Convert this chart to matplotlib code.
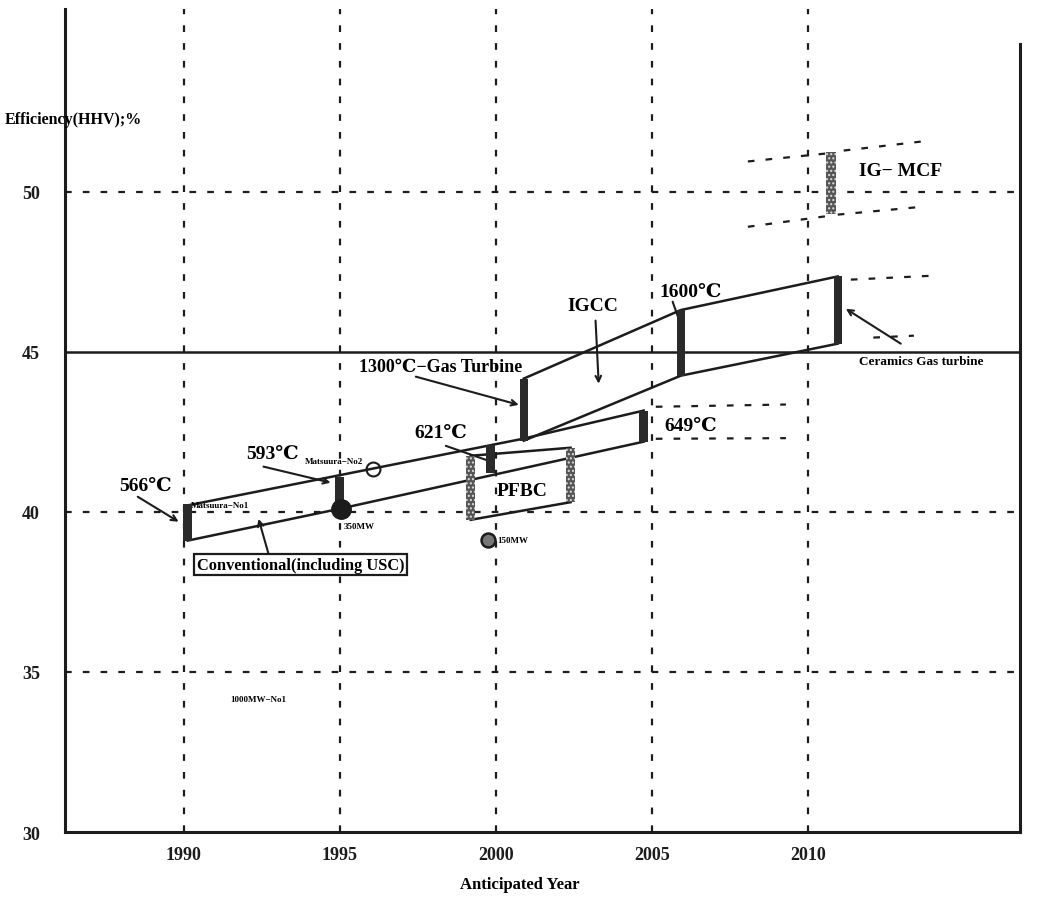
import matplotlib
matplotlib.use('Agg')
import matplotlib.pyplot as plt

plt.rcParams['font.family'] = ['Liberation Serif', 'DejaVu Serif']
plt.rcParams['font.weight'] = 'bold'

# axis ticks
years = [1990, 1995, 2000, 2005, 2010]
eff_ticks = [30, 35, 40, 45, 50]

# conventional plants (upper edge continues as the 649C band top)
conv_top_x = [1990.13, 2000.87, 2004.74]
conv_top_y = [40.2, 42.28, 43.16]
conv_bot_x = [1990.13, 1995.03, 2004.74]
conv_bot_y = [39.1, 40.1, 42.19]
conv_bar_x = [1990.13, 1995.0, 1999.84, 2004.74]
conv_bar_lo = [39.1, 40.2, 41.2, 42.19]
conv_bar_hi = [40.25, 41.1, 42.1, 43.16]
ext649_x = [2005.13, 2009.3]
ext649_top = [43.28, 43.35]
ext649_bot = [42.28, 42.3]

# PFBC box
pfbc_bar_x = [1999.2, 2002.4]
pfbc_bar_lo = [39.75, 40.3]
pfbc_bar_hi = [41.75, 42.0]

# IGCC band
igcc_x = [2000.9, 2005.93, 2010.96]
igcc_top = [44.16, 46.3, 47.35]
igcc_bot = [42.22, 44.25, 45.25]
ext_igcc_top_x = [2011.38, 2013.94]
ext_igcc_top_y = [47.25, 47.37]
ext_igcc_bot_x = [2012.1, 2013.4]
ext_igcc_bot_y = [45.44, 45.5]

# IG-MCF
mcf_bar_x = [2010.74]
mcf_bar_lo = [49.31]
mcf_bar_hi = [51.25]
mcf_dash = [
    ([2008.08, 2010.6], [50.94, 51.19]),
    ([2011.15, 2013.62], [51.28, 51.56]),
    ([2008.08, 2010.74], [48.9, 49.25]),
    ([2010.96, 2013.72], [49.28, 49.53]),
]

# plant markers
unit350 = (1995.03, 40.1)
unit150 = (1999.74, 39.13)
no2_mark = (1996.06, 41.34)

ink = '#1c1c1c'
fig = plt.figure(figsize=(10.37, 9.12), dpi=100)
ax = fig.add_axes([0.0627, 0.0866, 0.9209, 0.9024])
ax.set_xlim(1986.2, 2016.8)
ax.set_ylim(30, 55.7)

ax.spines['top'].set_visible(False)
for s in ['left', 'right', 'bottom']:
    ax.spines[s].set_linewidth(2.2)
    ax.spines[s].set_color(ink)
ax.spines['right'].set_bounds(30, 54.6)

ax.set_xticks(years)
ax.set_yticks(eff_ticks)
ax.tick_params(length=0, labelsize=13, colors=ink)
ax.tick_params(axis='y', pad=18)
ax.tick_params(axis='x', pad=10)

dash = (0, (3, 5))
for yr in years:
    ax.axvline(yr, color=ink, lw=1.6, ls=dash, zorder=1)
for e in [35, 40, 50]:
    ax.axhline(e, color=ink, lw=1.6, ls=dash, zorder=1)
ax.axhline(45, color=ink, lw=1.8, zorder=2)

lw = 1.8
ax.plot(conv_top_x, conv_top_y, color=ink, lw=lw, zorder=3)
ax.plot(conv_bot_x, conv_bot_y, color=ink, lw=lw, zorder=3)
ax.plot(ext649_x, ext649_top, color=ink, lw=1.6, ls=dash)
ax.plot(ext649_x, ext649_bot, color=ink, lw=1.6, ls=dash)

ax.plot(igcc_x, igcc_top, color=ink, lw=lw, zorder=3)
ax.plot(igcc_x, igcc_bot, color=ink, lw=lw, zorder=3)
ax.plot(ext_igcc_top_x, ext_igcc_top_y, color=ink, lw=1.6, ls=dash)
ax.plot(ext_igcc_bot_x, ext_igcc_bot_y, color=ink, lw=1.6, ls=dash)

ax.plot(pfbc_bar_x, pfbc_bar_hi, color=ink, lw=lw, zorder=3)
ax.plot(pfbc_bar_x, pfbc_bar_lo, color=ink, lw=lw, zorder=3)

for xs, ys in mcf_dash:
    ax.plot(xs, ys, color=ink, lw=1.6, ls=dash)

bw = 0.27
ax.bar(conv_bar_x, [h - l for h, l in zip(conv_bar_hi, conv_bar_lo)],
       bottom=conv_bar_lo, width=bw, color='#2a2a2a', zorder=4)
ax.bar(igcc_x, [h - l for h, l in zip(igcc_top, igcc_bot)],
       bottom=igcc_bot, width=bw, color='#2a2a2a', zorder=4)
ax.bar(pfbc_bar_x, [h - l for h, l in zip(pfbc_bar_hi, pfbc_bar_lo)],
       bottom=pfbc_bar_lo, width=0.3, color='#555555', hatch='....',
       edgecolor='#dddddd', lw=0, zorder=4)
ax.bar(mcf_bar_x, [h - l for h, l in zip(mcf_bar_hi, mcf_bar_lo)],
       bottom=mcf_bar_lo, width=0.3, color='#555555', hatch='....',
       edgecolor='#dddddd', lw=0, zorder=4)

ax.plot(*unit350, 'o', ms=14, color=ink, zorder=5)
ax.plot(*unit150, 'o', ms=10, mfc='#777777', mec=ink, mew=1.8, zorder=5)
ax.plot(*no2_mark, 'o', ms=10, mfc='none', mec=ink, mew=1.5, zorder=5)

big = 14
small = 6.5
ax.text(1988.78, 40.81, '566\u2103', fontsize=big, ha='center', va='center')
ax.text(1992.85, 41.81, '593\u2103', fontsize=big, ha='center', va='center')
ax.text(1998.24, 42.47, '621\u2103', fontsize=big, ha='center', va='center')
ax.text(2006.25, 42.69, '649\u2103', fontsize=big, ha='center', va='center')
ax.text(2006.25, 46.88, '1600\u2103', fontsize=big, ha='center', va='center')
ax.text(1998.24, 44.53, '1300\u2103\u2212Gas Turbine', fontsize=13, ha='center', va='center')
ax.text(2003.1, 46.44, 'IGCC', fontsize=big, ha='center', va='center')
ax.text(2000.83, 40.66, 'PFBC', fontsize=big, ha='center', va='center')
ax.text(2012.98, 50.66, 'IG\u2212 MCF', fontsize=big, ha='center', va='center')
ax.text(2013.62, 44.72, 'Ceramics Gas turbine', fontsize=9.5, ha='center', va='center')
ax.text(1990.22, 40.2, 'Matsuura\u2212No1', fontsize=small, ha='left', va='center')
ax.text(1993.9, 41.6, 'Matsuura\u2212No2', fontsize=small, ha='left', va='center')
ax.text(1995.13, 39.56, '350MW', fontsize=small, ha='left', va='center')
ax.text(2000.06, 39.13, '150MW', fontsize=small, ha='left', va='center')
ax.text(1992.4, 34.16, '1000MW\u2212No1', fontsize=small, ha='center', va='center')
ax.text(1993.75, 38.34, 'Conventional(including USC)', fontsize=11.8,
        ha='center', va='center',
        bbox=dict(boxstyle='square,pad=0.15', fc='white', ec=ink, lw=1.6))

arrow = dict(arrowstyle='->', color=ink, lw=1.5, shrinkA=0, shrinkB=0)
leader = dict(arrowstyle='-', color=ink, lw=1.5, shrinkA=0, shrinkB=0)
ax.annotate('', xy=(1989.84, 39.69), xytext=(1988.53, 40.47), arrowprops=arrow)
ax.annotate('', xy=(1994.71, 40.91), xytext=(1992.56, 41.41), arrowprops=arrow)
ax.annotate('', xy=(1999.78, 41.59), xytext=(1998.4, 42.06), arrowprops=leader)
ax.annotate('', xy=(2000.74, 43.34), xytext=(1997.44, 44.22), arrowprops=arrow)
ax.annotate('', xy=(2003.3, 44.0), xytext=(2003.2, 45.97), arrowprops=arrow)
ax.annotate('', xy=(2006.03, 45.56), xytext=(2005.67, 46.56), arrowprops=leader)
ax.annotate('', xy=(2011.22, 46.34), xytext=(2012.98, 45.25), arrowprops=arrow)
ax.annotate('', xy=(1992.4, 39.78), xytext=(1992.72, 38.69), arrowprops=arrow)

fig.text(5 / 1037, 1 - 120 / 912, 'Efficiency(HHV);%', fontsize=11.5, ha='left', va='center')
fig.text(520 / 1037, 1 - 885 / 912, 'Anticipated Year', fontsize=12, ha='center', va='center')

fig.savefig('out.png', dpi=100)
